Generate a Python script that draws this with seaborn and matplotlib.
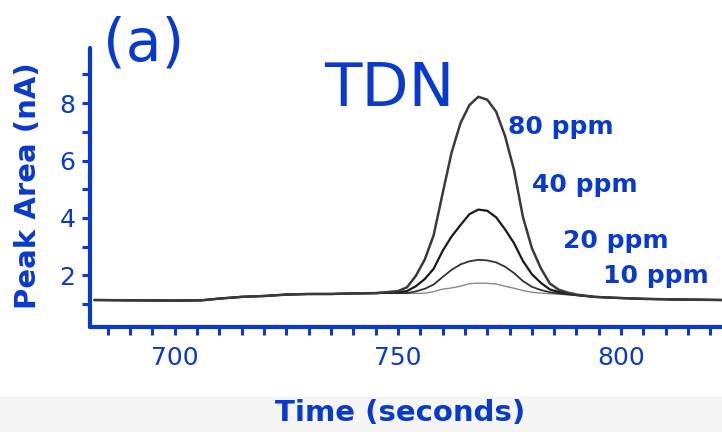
import matplotlib
matplotlib.use('Agg')
import pandas as pd
import seaborn as sns
import matplotlib.pyplot as plt
from matplotlib.ticker import MultipleLocator
from matplotlib.patches import Rectangle

# shared baseline before and after the peak (seconds, nA)
pre_time = [682, 690, 700, 706, 710, 715, 720, 725, 730, 735, 740, 745]
pre_area = [1.14, 1.13, 1.12, 1.13, 1.19, 1.25, 1.28, 1.33, 1.35, 1.35, 1.37, 1.38]
post_time = [794, 798, 805, 812, 823]
post_area = [1.25, 1.22, 1.18, 1.16, 1.14]

# peak region
peak_time = [750, 752, 754, 756, 758, 760, 762, 764, 766, 768, 770,
             772, 774, 776, 778, 780, 782, 784, 786, 788, 790]
ppm80 = [1.45, 1.58, 1.98, 2.55, 3.40, 4.85, 6.27, 7.30, 7.93, 8.22, 8.12,
         7.70, 6.85, 5.67, 4.03, 2.95, 2.25, 1.72, 1.50, 1.40, 1.33]
ppm40 = [1.41, 1.45, 1.62, 1.87, 2.23, 2.85, 3.35, 3.75, 4.13, 4.29, 4.25,
         4.02, 3.60, 3.12, 2.50, 2.04, 1.74, 1.51, 1.42, 1.36, 1.31]
ppm20 = [1.38, 1.38, 1.44, 1.53, 1.68, 1.94, 2.19, 2.38, 2.49, 2.54, 2.52,
         2.45, 2.30, 2.08, 1.80, 1.60, 1.49, 1.41, 1.37, 1.34, 1.31]
ppm10 = [1.38, 1.37, 1.37, 1.38, 1.43, 1.52, 1.56, 1.62, 1.71, 1.73, 1.72,
         1.70, 1.62, 1.55, 1.47, 1.41, 1.38, 1.36, 1.34, 1.32, 1.31]

labels = ['10 ppm', '20 ppm', '40 ppm', '80 ppm']
series = [ppm10, ppm20, ppm40, ppm80]
x_ticks = [700, 750, 800]
y_ticks = [2, 4, 6, 8]

rows = []
for lab, vals in zip(labels, series):
    for t, v in zip(pre_time + peak_time + post_time, pre_area + vals + post_area):
        rows.append({'time': t, 'area': v, 'conc': lab})
df = pd.DataFrame(rows)

blue = '#0a3acb'
sns.set_style('white')
plt.rcParams['font.family'] = ['DejaVu Sans']

fig = plt.figure(figsize=(7.22, 4.32), dpi=100)
fig.patches.append(Rectangle((0, 0), 1, 35 / 432, transform=fig.transFigure,
                             color='#f5f5f5', zorder=0))
ax = fig.add_axes([90 / 722, 1 - 327 / 432, 1 - 90 / 722, (327 - 48) / 432])

styles = {'10 ppm': ('#8a8a8a', 1.0), '20 ppm': ('#333333', 1.3),
          '40 ppm': ('#1a1a1a', 1.6), '80 ppm': ('#3a3a3a', 1.8)}
for lab in labels:
    c, lw = styles[lab]
    sns.lineplot(data=df[df.conc == lab], x='time', y='area', color=c, lw=lw,
                 estimator=None, ax=ax, legend=False)

ax.set_xlim(681, 822.6)
ax.set_ylim(0.2, 9.92)
ax.set_xlabel('')
ax.set_ylabel('')
ax.set_xticks(x_ticks)
ax.set_yticks(y_ticks)
ax.xaxis.set_minor_locator(MultipleLocator(5))
ax.yaxis.set_minor_locator(MultipleLocator(1))
for s in ['top', 'right']:
    ax.spines[s].set_visible(False)
for s in ['left', 'bottom']:
    ax.spines[s].set_color(blue)
    ax.spines[s].set_linewidth(3)
    ax.spines[s].set_capstyle('round')
ax.tick_params(which='both', direction='out', color=blue, width=2.2, length=5.5,
               bottom=True, left=True)
ax.tick_params(axis='x', which='major', labelsize=18, labelcolor=blue, pad=8)
ax.tick_params(axis='y', which='major', labelsize=18, labelcolor=blue, pad=5)

# concentration labels
ax.text(786.5, 7.17, '80 ppm', color=blue, fontsize=18, fontweight='bold', ha='center', va='center')
ax.text(791.9, 5.15, '40 ppm', color=blue, fontsize=18, fontweight='bold', ha='center', va='center')
ax.text(798.9, 3.2, '20 ppm', color=blue, fontsize=18, fontweight='bold', ha='center', va='center')
ax.text(807.8, 1.98, '10 ppm', color=blue, fontsize=18, fontweight='bold', ha='center', va='center')

fig.text(389 / 722, 1 - 89 / 432, 'TDN', color=blue, fontsize=44, ha='center', va='center')
fig.text(144 / 722, 1 - 44 / 432, '(a)', color=blue, fontsize=42, ha='center', va='center')
fig.text(400 / 722, 1 - 413 / 432, 'Time (seconds)', color=blue, fontsize=21,
         fontweight='bold', ha='center', va='center')
fig.text(28 / 722, 1 - 186 / 432, 'Peak Area (nA)', color=blue, fontsize=21,
         fontweight='bold', ha='center', va='center', rotation=90)

fig.savefig('out.png', dpi=100)
